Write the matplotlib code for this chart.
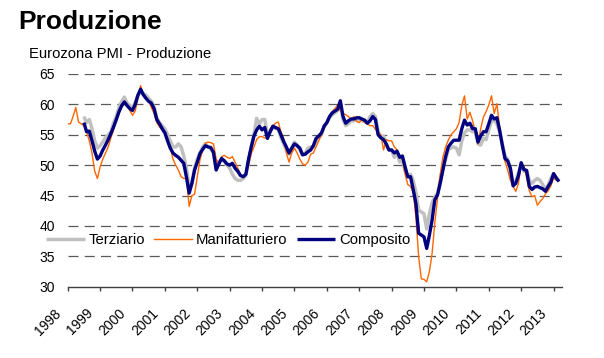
import numpy as np
import matplotlib
matplotlib.use("Agg")
import matplotlib.pyplot as plt
import matplotlib.transforms as mtransforms

plt.rcParams['font.family'] = ['Liberation Sans', 'DejaVu Sans']

# PMI Eurozona - indici di produzione, dati mensili
# Manifatturiero: da gen 1998; Terziario e Composito: da lug 1998
manifatturiero = [
    56.8, 56.8, 58.0, 59.5, 57.1, 56.8, 56.5, 55.5, 54.0, 52.0, 49.0, 47.8,  # 1998
    49.7, 51.0, 52.0, 53.0, 54.5, 55.8, 57.4, 58.5, 59.6, 60.0, 60.1, 59.0,  # 1999
    58.2, 58.9, 61.0, 63.1, 61.5, 61.0, 60.5, 59.5, 58.5, 57.0, 56.3, 55.8,  # 2000
    55.5, 54.3, 53.0, 51.0, 50.0, 49.2, 48.1, 47.8, 47.8, 43.2, 45.0, 45.2,  # 2001
    48.1, 50.9, 52.5, 53.6, 53.8, 53.7, 53.5, 51.0, 50.2, 51.4, 51.6, 51.3,  # 2002
    51.1, 51.4, 50.5, 49.5, 48.5, 48.0, 48.5, 50.0, 51.9, 53.0, 54.2, 54.7,  # 2003
    54.7, 54.5, 54.4, 56.0, 56.5, 56.9, 57.1, 55.5, 54.4, 52.0, 50.5, 52.0,  # 2004
    52.8, 52.0, 51.0, 50.2, 50.0, 50.5, 51.8, 52.0, 53.0, 54.0, 55.0, 56.0,  # 2005
    57.0, 58.0, 58.8, 59.3, 59.9, 59.0, 58.5, 58.3, 58.0, 57.5, 58.0, 57.2,  # 2006
    57.0, 57.5, 57.0, 56.8, 56.5, 56.5, 55.9, 55.5, 55.0, 52.5, 54.2, 54.0,  # 2007
    54.0, 53.0, 52.5, 51.4, 51.0, 48.5, 46.8, 46.5, 45.5, 41.5, 35.0, 31.3,  # 2008
    31.2, 30.8, 32.5, 35.5, 40.5, 44.5, 48.5, 51.3, 53.0, 54.1, 55.0, 55.5,  # 2009
    56.0, 57.0, 59.8, 61.4, 57.6, 58.7, 57.3, 55.5, 53.5, 56.0, 57.9, 58.8,  # 2010
    59.9, 61.4, 58.5, 60.1, 56.3, 52.7, 50.6, 49.2, 47.5, 46.5, 45.7, 47.0,  # 2011
    50.3, 49.8, 48.0, 45.8, 44.8, 45.0, 43.4, 44.0, 44.5, 45.3, 45.8, 46.6,  # 2012
    47.9, 47.5,                                                              # 2013
]
terziario = [
    58.0, 57.0, 57.5, 56.0, 54.0, 52.8,                                      # 1998
    53.2, 53.8, 54.5, 55.0, 55.5, 57.0, 58.0, 59.5, 60.5, 61.2, 60.2, 59.8,  # 1999
    59.5, 60.3, 61.5, 62.0, 61.8, 61.5, 61.0, 60.5, 59.5, 57.8, 57.0, 56.5,  # 2000
    56.0, 55.0, 54.0, 53.0, 53.0, 53.5, 53.0, 51.5, 49.5, 46.5, 47.0, 49.5,  # 2001
    51.0, 52.0, 53.0, 53.5, 53.0, 52.7, 52.0, 49.5, 50.5, 51.0, 50.8, 50.0,  # 2002
    49.5, 48.5, 47.8, 47.5, 47.5, 47.8, 48.3, 50.5, 53.0, 55.0, 57.7, 56.8,  # 2003
    57.5, 57.5, 55.0, 55.5, 56.4, 56.0, 56.0, 54.5, 53.5, 52.5, 51.8, 52.8,  # 2004
    53.8, 53.3, 52.5, 51.7, 52.0, 52.8, 53.0, 53.0, 54.0, 54.5, 55.0, 56.5,  # 2005
    57.0, 57.8, 58.3, 58.6, 59.0, 60.0, 57.5, 56.5, 56.8, 57.3, 57.3, 57.5,  # 2006
    57.5, 57.3, 57.3, 57.0, 58.0, 58.5, 58.0, 55.5, 54.5, 54.8, 53.5, 52.5,  # 2007
    52.5, 51.3, 52.0, 50.5, 51.0, 49.0, 48.0, 48.5, 47.5, 45.5, 42.6, 42.3,  # 2008
    42.0, 39.5, 42.0, 43.8, 44.8, 45.3, 47.5, 49.5, 50.9, 52.6, 52.8, 53.0,  # 2009
    52.8, 51.7, 54.0, 55.3, 55.8, 55.8, 55.5, 55.5, 53.5, 53.3, 54.4, 54.2,  # 2010
    55.8, 57.2, 57.4, 56.8, 55.5, 53.5, 51.5, 51.0, 49.2, 47.0, 47.3, 48.8,  # 2011
    50.0, 49.0, 49.2, 47.5, 47.0, 47.5, 47.8, 47.5, 46.8, 46.0, 46.7, 47.8,  # 2012
    48.6, 47.9, 47.5,                                                        # 2013
]
composito = [
    57.0, 55.5, 55.6, 54.0, 52.3, 51.0,                                      # 1998
    51.5, 52.5, 53.3, 54.2, 55.2, 56.3, 57.5, 58.8, 59.8, 60.4, 59.8, 59.3,  # 1999
    59.0, 60.0, 61.5, 62.5, 61.6, 61.0, 60.5, 60.2, 59.3, 57.5, 56.8, 56.0,  # 2000
    55.3, 54.0, 52.8, 52.0, 51.6, 51.3, 50.8, 50.3, 48.0, 45.4, 47.0, 49.2,  # 2001
    50.5, 51.9, 52.6, 53.2, 53.0, 52.9, 52.1, 49.2, 50.2, 51.1, 50.7, 50.2,  # 2002
    50.0, 50.3, 49.5, 49.0, 48.3, 48.1, 48.5, 51.0, 53.0, 54.8, 55.8, 56.4,  # 2003
    55.8, 56.2, 54.4, 55.5, 56.4, 56.2, 56.0, 55.0, 53.9, 53.0, 52.0, 52.8,  # 2004
    53.5, 53.2, 52.8, 51.7, 51.8, 52.2, 52.5, 53.2, 54.4, 54.8, 55.3, 56.4,  # 2005
    57.0, 58.0, 58.6, 58.9, 59.2, 60.6, 58.0, 56.9, 57.3, 57.6, 57.6, 57.8,  # 2006
    57.8, 57.6, 57.4, 56.9, 57.3, 58.0, 57.5, 55.0, 54.5, 54.2, 53.5, 52.5,  # 2007
    52.5, 52.0, 52.3, 51.3, 51.5, 49.7, 48.1, 48.1, 46.0, 43.7, 38.8, 38.5,  # 2008
    38.2, 36.3, 38.5, 41.0, 44.3, 45.1, 47.0, 49.2, 51.4, 53.0, 53.6, 54.1,  # 2009
    54.1, 54.1, 56.0, 57.4, 56.6, 56.9, 56.0, 56.0, 53.8, 54.8, 55.5, 55.5,  # 2010
    56.8, 58.2, 57.6, 57.8, 55.8, 53.3, 51.1, 50.7, 49.5, 46.6, 47.0, 48.3,  # 2011
    50.4, 49.3, 49.1, 46.5, 46.0, 46.4, 46.5, 46.3, 46.1, 45.7, 46.5, 47.2,  # 2012
    48.6, 47.9, 47.3,                                                        # 2013
]
inizio_manif = 1998.0          # gennaio 1998
inizio_serv = 1998.0 + 6 / 12  # luglio 1998

anni = list(range(1998, 2014))
y_ticks = [30, 35, 40, 45, 50, 55, 60, 65]

x_manif = inizio_manif + np.arange(len(manifatturiero)) / 12
x_serv = inizio_serv + np.arange(len(terziario)) / 12
x_comp = inizio_serv + np.arange(len(composito)) / 12

fig = plt.figure(figsize=(6.04, 3.58), dpi=100)
ax = fig.add_axes([0.1121, 0.1992, 0.8189, 0.5941])

ax.plot(x_serv, terziario, color='#c0c0c0', lw=2.5, label='Terziario',
        solid_capstyle='butt', zorder=3)
ax.plot(x_manif, manifatturiero, color='#ff6600', lw=1.0, label='Manifatturiero',
        zorder=4)
ax.plot(x_comp, composito, color='#000080', lw=2.4, label='Composito',
        solid_capstyle='butt', zorder=5)

ax.set_xlim(1998.0, 2013.27)
ax.set_ylim(30, 65)
ax.set_yticks(y_ticks)
ax.set_xticks(anni)
ax.set_xticklabels([str(a) for a in anni], rotation=45, ha='right', va='top')

for y in y_ticks[1:]:
    ax.axhline(y, color='#5a5a5a', lw=0.9, ls=(0, (8, 5)), zorder=1)

for s in ['top', 'right', 'left']:
    ax.spines[s].set_visible(False)
ax.spines['bottom'].set_color('#404040')
ax.spines['bottom'].set_linewidth(1.0)

ax.tick_params(axis='y', length=0, pad=9, labelsize=10)
ax.tick_params(axis='x', length=3, width=1, color='#404040', pad=11,
               labelsize=10, direction='out')

offset = mtransforms.ScaledTranslation(-4.0 / 100, 0, fig.dpi_scale_trans)
for lab in ax.get_xticklabels():
    lab.set_transform(lab.get_transform() + offset)

fig.text(18 / 604, 1 - 29.3 / 358, 'Produzione', fontsize=19, fontweight='bold',
         ha='left', va='baseline')
fig.text(29 / 604, 1 - 58.3 / 358, 'Eurozona PMI - Produzione', fontsize=10.6,
         ha='left', va='baseline')

fig.legend(loc='center left', bbox_to_anchor=(46 / 604, 1 - 240 / 358), ncol=3,
           frameon=False, fontsize=10.7, handlelength=2.6, handletextpad=0.25,
           columnspacing=0.6, borderpad=0, borderaxespad=0)

fig.savefig('out.png', dpi=100)
